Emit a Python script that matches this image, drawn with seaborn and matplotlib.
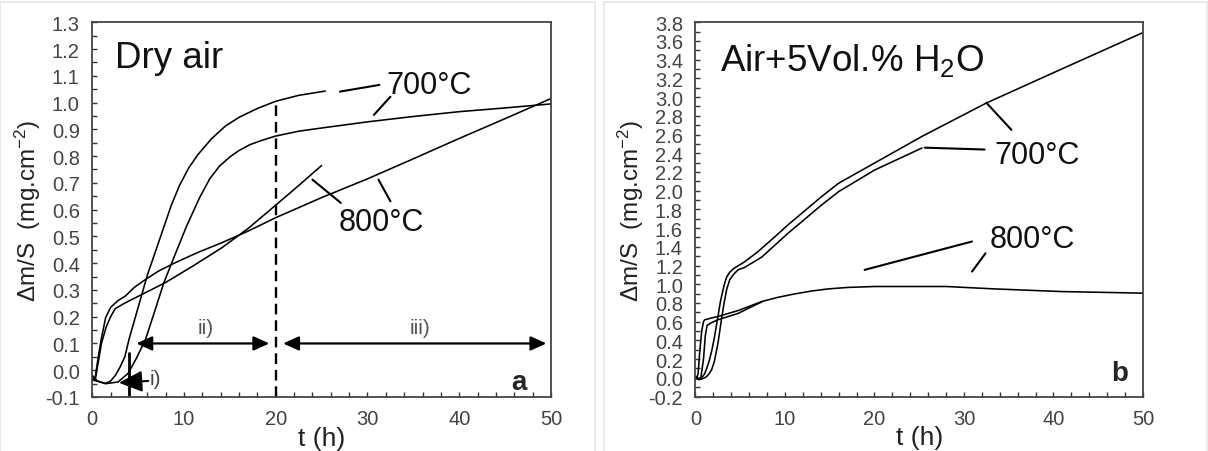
import numpy as np
import pandas as pd
import matplotlib
matplotlib.use("Agg")
import matplotlib.pyplot as plt
import seaborn as sns
from matplotlib.ticker import MultipleLocator, FuncFormatter
from matplotlib.patches import Rectangle

# ---- panel a: dry air ----
a700_hi_t = [0, 0.5, 1.4, 2.0, 2.5, 3.0, 3.55, 4.0, 5.0, 6.0, 7.0, 7.8, 8.6, 9.5, 10.5, 11.5, 13.0, 14.5, 16.0, 18.0, 20.0, 22.5, 25.4]
a700_hi_y = [-0.02, -0.04, -0.05, -0.04, -0.02, 0.01, 0.05, 0.115, 0.235, 0.355, 0.455, 0.535, 0.615, 0.69, 0.755, 0.805, 0.865, 0.912, 0.945, 0.978, 1.005, 1.027, 1.043]

a700_lo_t = [0, 0.5, 1.5, 2.8, 3.9, 4.8, 5.8, 6.8, 7.8, 9.0, 10.3, 11.7, 12.8, 13.85, 15.0, 16.0, 17.2, 18.5, 20.0, 22.5, 25.0, 30.0, 35.0, 40.0, 45.0, 50.0]
a700_lo_y = [-0.02, -0.04, -0.05, -0.044, -0.012, 0.044, 0.115, 0.22, 0.327, 0.43, 0.54, 0.645, 0.715, 0.762, 0.797, 0.821, 0.843, 0.859, 0.875, 0.893, 0.905, 0.928, 0.948, 0.966, 0.98, 0.995]

a800_short_t = [0, 0.3, 0.6, 1.0, 1.5, 2.0, 2.5, 3.5, 5.4, 7.95, 11.0, 14.1, 17.0, 20.0, 22.5, 25.0]
a800_short_y = [-0.03, -0.04, 0.02, 0.10, 0.16, 0.20, 0.23, 0.25, 0.283, 0.327, 0.39, 0.457, 0.53, 0.617, 0.69, 0.765]

a800_long_t = [0, 0.3, 0.7, 1.0, 1.45, 2.0, 2.8, 3.6, 4.6, 5.8, 7.3, 9.0, 11.5, 14.1, 17.0, 20.0, 25.0, 30.0, 35.0, 40.0, 45.0, 50.0]
a800_long_y = [-0.04, -0.03, 0.06, 0.12, 0.196, 0.235, 0.26, 0.277, 0.31, 0.339, 0.372, 0.401, 0.44, 0.476, 0.52, 0.57, 0.645, 0.715, 0.79, 0.866, 0.94, 1.015]

# ---- panel b: air + 5 vol.% H2O ----
b700_hi_t = [0, 0.3, 0.7, 1.0, 1.2, 1.5, 1.8, 2.1, 2.45, 2.8, 3.2, 3.5, 3.84, 4.3, 5.5, 7.0, 8.9, 10.4, 11.9, 14.0, 16.0, 20.0, 25.3, 32.5, 40.9, 50.0]
b700_hi_y = [0.02, -0.01, 0.0, 0.04, 0.085, 0.17, 0.28, 0.42, 0.62, 0.82, 0.99, 1.08, 1.13, 1.17, 1.24, 1.35, 1.51, 1.64, 1.76, 1.93, 2.08, 2.295, 2.58, 2.937, 3.30, 3.69]

b700_lo_t = [0, 0.4, 0.8, 1.2, 1.5, 1.8, 2.1, 2.5, 2.9, 3.2, 3.5, 3.84, 4.3, 4.76, 5.5, 7.4, 8.9, 10.4, 11.9, 14.0, 16.0, 20.0, 25.3]
b700_lo_y = [0.0, -0.02, -0.01, 0.01, 0.04, 0.085, 0.17, 0.36, 0.62, 0.80, 0.95, 1.05, 1.11, 1.154, 1.18, 1.29, 1.42, 1.55, 1.67, 1.84, 1.99, 2.22, 2.456]

b800_hi_t = [0, 0.15, 0.3, 0.5, 0.7, 0.9, 1.04, 1.8, 2.5, 4.8, 7.4, 9.2, 11.1, 13.0, 14.8, 17.0, 20.0, 28.0, 33.5, 40.9, 50.0]
b800_hi_y = [0.0, -0.01, 0.05, 0.30, 0.50, 0.60, 0.62, 0.64, 0.655, 0.72, 0.815, 0.86, 0.897, 0.928, 0.95, 0.966, 0.976, 0.976, 0.95, 0.922, 0.905]

b800_lo_t = [0, 0.3, 0.6, 0.9, 1.1, 1.3, 1.8, 2.5, 3.5, 4.8, 6.6, 7.4]
b800_lo_y = [0.0, -0.01, 0.0, 0.20, 0.45, 0.56, 0.59, 0.62, 0.65, 0.69, 0.775, 0.81]

# stage markers for panel a
stage_i_t = 4
stage_split_t = 20

sns.set_theme(style="ticks")
plt.rcParams['font.family'] = ['Liberation Sans', 'DejaVu Sans']
plt.rcParams['mathtext.default'] = 'regular'

fig = plt.figure(figsize=(12.08, 4.52), dpi=100)
ax_a = fig.add_axes([0.0764, 0.1195, 0.3797, 0.829])
ax_b = fig.add_axes([0.5757, 0.1205, 0.3705, 0.828])

# light frames of the two source images
for x0, x1 in [(0, 595), (604, 1207)]:
    fig.patches.append(Rectangle((x0 / 1208, -0.01), (x1 - x0) / 1208, 1 - 2.7 / 452 + 0.01,
                                 transform=fig.transFigure, fill=False, ec='#e6e6e6', lw=1.2))

curve_kw = dict(color='black', linewidth=1.15, estimator=None, sort=False)

for t, y in [(a700_hi_t, a700_hi_y), (a700_lo_t, a700_lo_y),
             (a800_short_t, a800_short_y), (a800_long_t, a800_long_y)]:
    df = pd.DataFrame({'t': t, 'dm': y})
    sns.lineplot(data=df, x='t', y='dm', ax=ax_a, **curve_kw)

for t, y in [(b700_hi_t, b700_hi_y), (b700_lo_t, b700_lo_y),
             (b800_hi_t, b800_hi_y), (b800_lo_t, b800_lo_y)]:
    df = pd.DataFrame({'t': t, 'dm': y})
    sns.lineplot(data=df, x='t', y='dm', ax=ax_b, **curve_kw)

fmt = FuncFormatter(lambda v, p: f"{v:.1f}".replace("-0.0", "0.0"))
for ax, lo, hi, major, minor in [(ax_a, -0.1, 1.3, 0.1, 0.05), (ax_b, -0.2, 3.8, 0.2, 0.1)]:
    ax.set_xlim(0, 50)
    ax.set_ylim(lo, hi)
    ax.xaxis.set_major_locator(MultipleLocator(10))
    ax.xaxis.set_minor_locator(MultipleLocator(2))
    ax.yaxis.set_major_locator(MultipleLocator(major))
    ax.yaxis.set_minor_locator(MultipleLocator(minor))
    ax.yaxis.set_major_formatter(fmt)
    ax.tick_params(which='both', direction='in', length=3.5, width=1, color='#333333',
                   labelsize=14.5, labelcolor='#444444', pad=9)
    for s in ax.spines.values():
        s.set_visible(True)
        s.set_color('#444444')
        s.set_linewidth(1.3)
    ax.set_xlabel('t (h)', fontsize=19, labelpad=-2, color='#222222')
    ax.set_ylabel('Δm/S  (mg.cm$^{-2}$)', fontsize=17.5, labelpad=2, color='#222222')

# panel a annotations
ax_a.plot([stage_split_t, stage_split_t], [-0.1, 1.005], color='black', lw=1.7,
          linestyle=(0, (4.5, 2.5)))
ax_a.plot([stage_i_t, stage_i_t], [-0.1, 0.065], color='black', lw=2)
ax_a.annotate('', xy=(2.9, -0.047), xytext=(6.1, -0.04),
              arrowprops=dict(arrowstyle='-|>,head_length=1.1,head_width=0.5', color='black',
                              lw=1.5, mutation_scale=13, shrinkA=0, shrinkB=0))
ax_a.text(6.3, -0.032, 'i)', fontsize=15, color='#444444', va='center')
arrow_kw = dict(arrowstyle='<|-|>,head_length=0.95,head_width=0.43', color='black', lw=1.6,
                mutation_scale=10, shrinkA=0, shrinkB=0)
ax_a.annotate('', xy=(19.3, 0.1), xytext=(4.8, 0.1), arrowprops=arrow_kw)
ax_a.annotate('', xy=(49.5, 0.1), xytext=(20.8, 0.1), arrowprops=arrow_kw)
ax_a.text(12.4, 0.16, 'ii)', fontsize=15, color='#555555', ha='center', va='center')
ax_a.text(35.7, 0.16, 'iii)', fontsize=15, color='#555555', ha='center', va='center')

ax_a.text(2.5, 1.133, 'Dry air', fontsize=26.5, color='#111111', va='baseline')
ax_a.text(32.1, 1.036, '700°C', fontsize=22, color='#111111', va='baseline')
ax_a.text(26.9, 0.525, '800°C', fontsize=22, color='#111111', va='baseline')
ax_a.text(47.4, -0.07, 'a', fontsize=20, fontweight='bold', ha='right', va='baseline')
for (x0, y0), (x1, y1) in [((27.0, 1.041), (31.3, 1.066)), ((30.7, 0.954), (32.5, 1.022)),
                           ((24.0, 0.712), (27.1, 0.625)), ((31.2, 0.712), (32.5, 0.631))]:
    ax_a.plot([x0, x1], [y0, y1], color='black', lw=1.5)

# panel b annotations
ax_b.text(2.7, 3.29, 'Air+5Vol.% H$_2$O', fontsize=26.5, color='#111111', va='baseline')
ax_b.text(33.4, 2.295, '700°C', fontsize=22, color='#111111', va='baseline')
ax_b.text(32.9, 1.397, '800°C', fontsize=22, color='#111111', va='baseline')
ax_b.text(48.3, -0.02, 'b', fontsize=20, fontweight='bold', ha='right', va='baseline')
for (x0, y0), (x1, y1) in [((32.5, 2.94), (35.3, 2.65)), ((25.6, 2.46), (32.3, 2.44)),
                           ((18.9, 1.154), (30.9, 1.457)), ((30.9, 1.136), (32.4, 1.33))]:
    ax_b.plot([x0, x1], [y0, y1], color='black', lw=1.5)

fig.savefig('out.png', dpi=100, facecolor='white')
